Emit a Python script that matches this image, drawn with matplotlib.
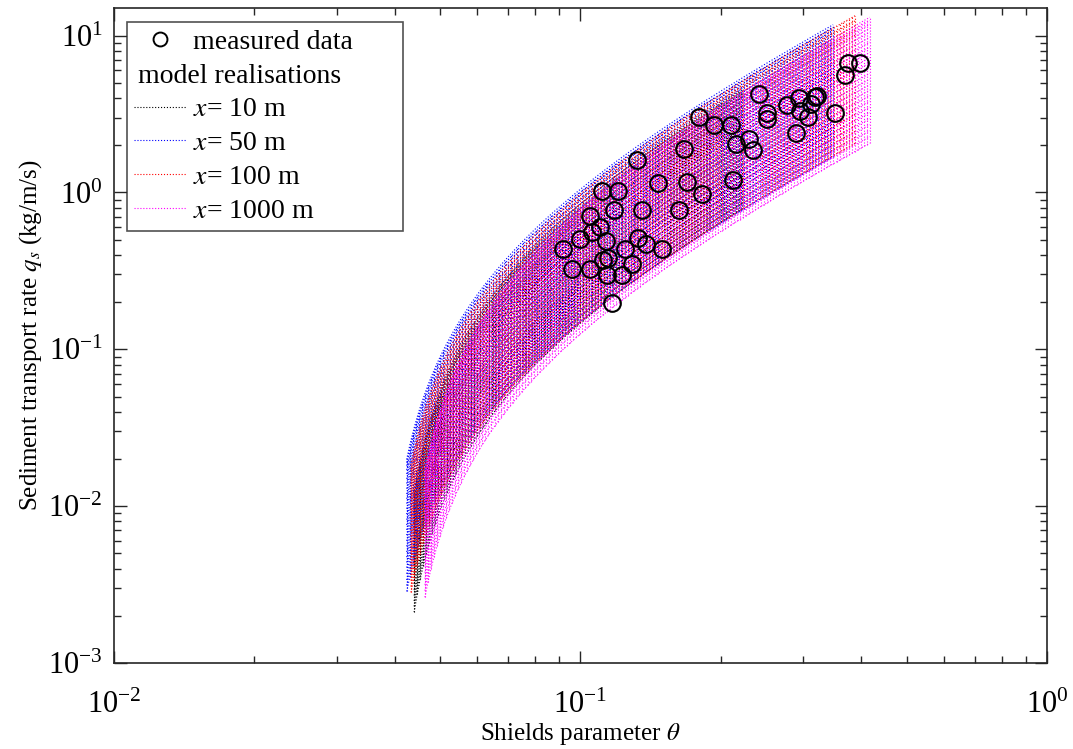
import numpy as np
import matplotlib.pyplot as plt
from matplotlib.lines import Line2D

plt.rcParams['font.family'] = ['Liberation Serif', 'DejaVu Serif']
plt.rcParams['mathtext.fontset'] = 'stix'

# measured data (Shields parameter, transport rate kg/m/s)
theta_meas = [0.1110, 0.1205, 0.1468, 0.1689, 0.1825, 0.1048, 0.1180, 0.1357, 0.1626,
              0.1101, 0.1057, 0.0997, 0.1132, 0.1330, 0.1381, 0.1493, 0.0918, 0.1246,
              0.1147, 0.1119, 0.1288, 0.0957, 0.1048, 0.1138, 0.1225, 0.1166, 0.2413,
              0.1795, 0.1933, 0.2099, 0.2514, 0.2514, 0.2775, 0.2940, 0.2954, 0.3078,
              0.3115, 0.3182, 0.3512, 0.2897, 0.2151, 0.2301, 0.2339, 0.1667, 0.1322,
              0.2120, 0.3751, 0.3973, 0.3690, 0.3220]
qs_meas = [1.015, 1.015, 1.148, 1.158, 0.977, 0.711, 0.768, 0.768, 0.768,
           0.602, 0.556, 0.507, 0.492, 0.512, 0.469, 0.436, 0.438, 0.436,
           0.382, 0.369, 0.351, 0.327, 0.327, 0.299, 0.299, 0.197, 4.25,
           3.05, 2.70, 2.70, 3.20, 2.95, 3.62, 3.99, 3.33, 3.05,
           3.67, 4.09, 3.20, 2.39, 2.03, 2.20, 1.87, 1.89, 1.62,
           1.205, 6.73, 6.67, 5.62, 4.15]

# model realisations q = K (theta - theta_c)^1.5, one group per distance x
group_labels = ['10 m', '50 m', '100 m', '1000 m']
group_colors = ['#000000', '#0000ff', '#ff0000', '#ff00ff']
theta_first = [0.0440, 0.0424, 0.0433, 0.0464]
theta_last = [0.222, 0.348, 0.388, 0.417]
theta_crit = [0.0405, 0.0380, 0.0390, 0.0420]
n_theta = [110, 140, 148, 148]
K_real = [
    [10.2, 11.1, 12.0, 13.0, 14.1, 15.4, 16.8, 18.1, 19.5, 21.2, 22.9, 24.6, 26.4,
     28.5, 30.8, 32.9, 35.1, 37.8, 40.6, 43.2, 46.0, 49.1, 52.3, 55.0, 58.0],
    [9.8, 10.7, 11.6, 12.7, 13.9, 15.0, 16.2, 17.5, 19.0, 20.6, 22.4, 24.2, 26.0, 28.1,
     30.5, 33.0, 35.6, 38.2, 41.0, 44.3, 47.8, 51.2, 55.0, 58.4, 62.1, 65.0, 68.0],
    [10.0, 10.9, 11.9, 12.9, 14.0, 15.3, 16.6, 18.0, 19.4, 21.1, 22.8, 24.8, 26.9, 29.1,
     31.4, 33.9, 36.5, 39.3, 42.3, 45.5, 48.9, 52.3, 56.0, 60.2, 65.0],
    [9.0, 9.9, 10.8, 11.8, 12.9, 14.1, 15.3, 16.7, 18.1, 19.6, 21.2, 23.0, 25.0, 27.1,
     29.3, 31.6, 34.1, 36.8, 39.6, 42.6, 45.8, 48.6, 51.5, 54.2, 57.0],
]

fig = plt.figure(figsize=(10.73, 7.49), dpi=100)
ax = fig.add_axes([0.1062, 0.1148, 0.8696, 0.8745])

for g in range(4):
    th = np.geomspace(theta_first[g], theta_last[g], n_theta[g])
    K = np.array(K_real[g])
    Q = K[:, None] * np.clip(th[None, :] - theta_crit[g], 0, None) ** 1.5
    Q[Q <= 0] = np.nan
    c = group_colors[g]
    # curves along theta and cross lines between realisations
    ax.plot(th, Q.T, ls=':', color=c, lw=0.8)
    ax.plot(np.tile(th, (len(K), 1)), Q, ls=':', color=c, lw=0.8)

ax.plot(theta_meas, qs_meas, 'o', mfc='none', mec='k', ms=12, mew=1.5, zorder=5)

ax.set_xscale('log')
ax.set_yscale('log')
ax.set_xlim(1e-2, 1e0)
ax.set_ylim(1e-3, 15)
ax.tick_params(which='both', direction='in', top=True, right=True, labelsize=22,
               width=1.0, color='#262626')
ax.tick_params(which='major', length=9, pad=8)
ax.tick_params(which='minor', length=5)
ax.tick_params(axis='x', which='major', pad=20)
for s in ax.spines.values():
    s.set_linewidth(1.2)
    s.set_color('#262626')

ax.set_xlabel(r'Shields parameter $\theta$', fontsize=18, labelpad=1)
ax.set_ylabel(r'Sediment transport rate $q_s$ (kg/m/s)', fontsize=18, labelpad=3)

handles = [Line2D([], [], marker='o', ls='none', mfc='none', mec='k', ms=10, mew=1.4),
           Line2D([], [], ls='none')]
labels = ['measured data', 'model realisations']
for g in range(4):
    handles.append(Line2D([], [], ls=':', color=group_colors[g], lw=0.8))
    labels.append(r'$\it{x}$= ' + group_labels[g])
leg = ax.legend(handles, labels, loc='upper left', bbox_to_anchor=(0.0145, 0.978),
                fontsize=20, handlelength=1.85, handletextpad=0.25, labelspacing=0.3,
                borderpad=0.25, borderaxespad=0, fancybox=False, frameon=True)
leg.get_frame().set_edgecolor('#262626')
leg.get_frame().set_linewidth(1.2)
leg.get_texts()[1].set_x(-55)

fig.savefig('out.png', dpi=100)
